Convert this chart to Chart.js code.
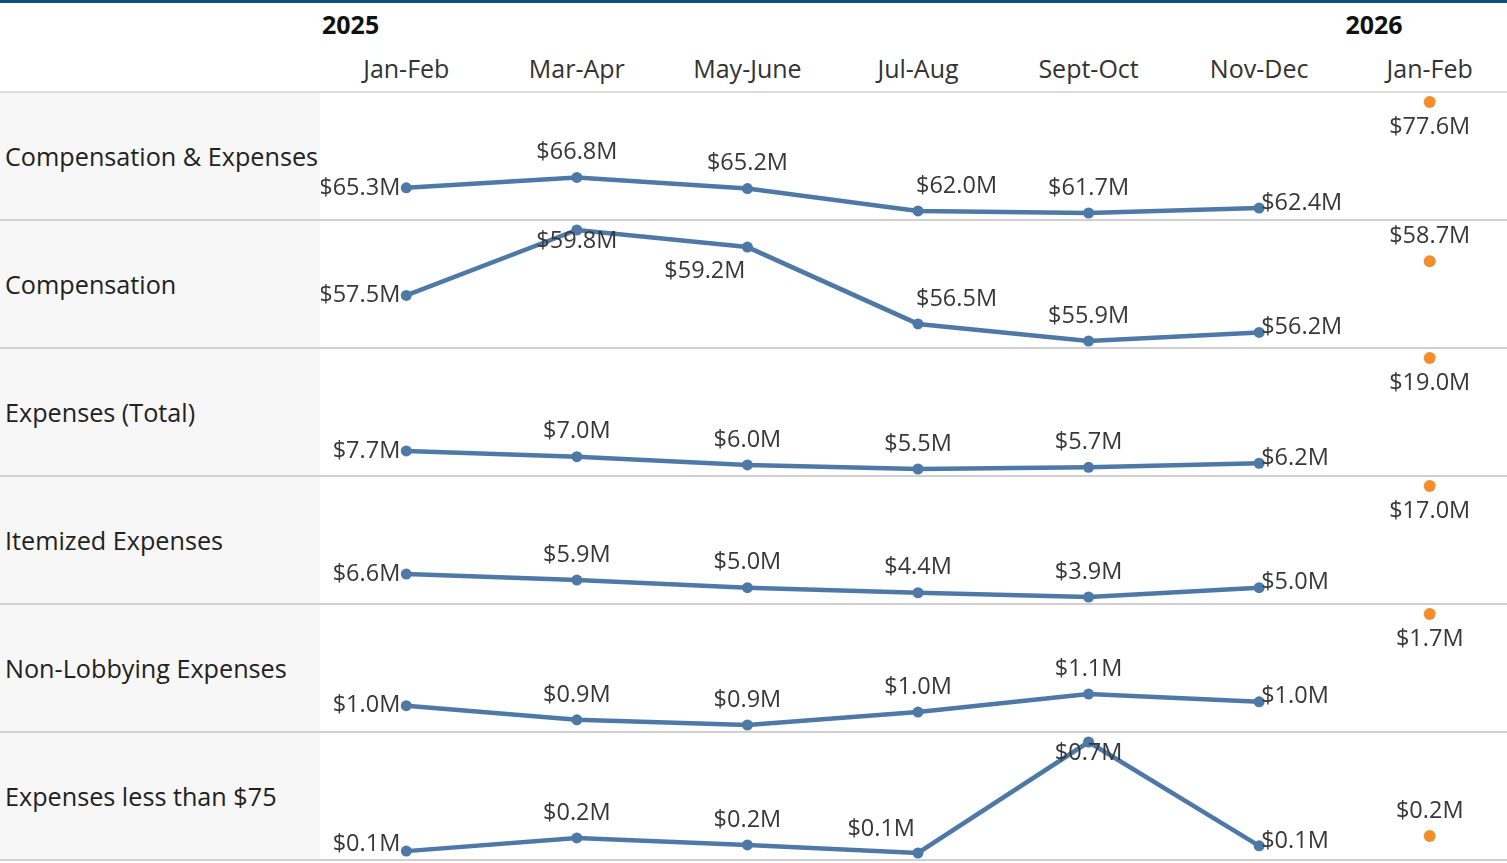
<!DOCTYPE html>
<html lang="en">
<head>
  <meta charset="UTF-8" />
  <title>Lobbying Compensation & Expenses</title>
  <script src="https://cdn.jsdelivr.net/npm/chart.js"></script>
  <style>
    body {
      margin: 0;
      width: 1507px;
      height: 863px;
      overflow: hidden;
      position: relative;
      background: #fff;
      font-family: "Open Sans", sans-serif;
      color: #333;
    }
    #topbar {
      position: absolute; left: 0; top: 0; width: 1507px; height: 3px;
      background: #0f4f82;
    }
    #headline {
      position: absolute; left: 0; top: 91px; width: 1507px; height: 2px;
      background: #dcdcdc;
    }
    .year {
      position: absolute; top: 7px; font-weight: bold; font-size: 25px; color: #111;
    }
    .period {
      position: absolute; top: 51px; width: 170px; margin-left: -85px;
      text-align: center; font-size: 25px; color: #333;
    }
    .row {
      position: absolute; left: 0; width: 1507px; height: 128px;
    }
    .row .name {
      position: absolute; left: 0; top: 0; width: 320px; height: 126px;
      background: #f7f7f7; display: flex; align-items: center;
      padding-left: 5px; box-sizing: border-box;
      font-size: 25.2px; color: #222; white-space: nowrap;
    }
    .row .sep {
      position: absolute; left: 0; bottom: 0; width: 1507px; height: 2px;
      background: #d0d0d0;
    }
    .row canvas {
      position: absolute; left: 321px; top: 0;
    }
  </style>
</head>
<body>
  <div id="topbar"></div>
  <div id="headline"></div>
  <div id="grid"></div>

  <script>
    // categories
    const periods = ['Jan-Feb', 'Mar-Apr', 'May-June', 'Jul-Aug', 'Sept-Oct', 'Nov-Dec', 'Jan-Feb'];
    const years = ['2025', '2026'];
    const yearFirstPeriod = [0, 6];

    const rowNames = [
      'Compensation & Expenses',
      'Compensation',
      'Expenses (Total)',
      'Itemized Expenses',
      'Non-Lobbying Expenses',
      'Expenses less than $75'
    ];

    // 2025 values ($M), Jan-Feb .. Nov-Dec
    const compAndExpenses = [65.3, 66.8, 65.2, 62.0, 61.7, 62.4];
    const compensation    = [57.5, 59.8, 59.2, 56.5, 55.9, 56.2];
    const expensesTotal   = [7.7, 7.0, 6.0, 5.5, 5.7, 6.2];
    const itemized        = [6.6, 5.9, 5.0, 4.4, 3.9, 5.0];
    const nonLobbying     = [1.01, 0.90, 0.86, 0.96, 1.10, 1.04];
    const lessThan75      = [0.12, 0.19, 0.153, 0.11, 0.70, 0.148];

    // 2026 Jan-Feb values ($M)
    const jan2026 = [77.6, 58.7, 19.0, 17.0, 1.72, 0.20];

    const series2025 = [compAndExpenses, compensation, expensesTotal, itemized, nonLobbying, lessThan75];

    // where each value label sits relative to its point
    const labelPlacement = [
      ['L', 'T', 'T', 'TR', 'T', 'R', 'B'],
      ['L', 'BO', 'BL', 'TR', 'T', 'R', 'T'],
      ['L', 'T', 'T', 'T', 'T', 'R', 'B'],
      ['L', 'T', 'T', 'T', 'T', 'R', 'B'],
      ['L', 'T', 'T', 'T', 'T', 'R', 'B'],
      ['LU', 'T', 'T', 'TL', 'BO', 'R', 'T']
    ];

    const BLUE = '#4e79a7';
    const ORANGE = '#f28e2b';
    const ROW_TOP = 93, ROW_H = 128, CHART_W = 1194, CHART_LEFT = 321;

    const fmt = v => '$' + v.toFixed(1) + 'M';

    // draws the "$x.xM" labels next to each point
    const valueLabels = {
      id: 'valueLabels',
      afterDatasetsDraw(chart) {
        const ctx = chart.ctx;
        const pos = chart.options.plugins.valueLabels.pos;
        ctx.save();
        ctx.font = '23.5px "Open Sans"';
        ctx.fillStyle = '#383838';
        ctx.textBaseline = 'middle';
        chart.data.datasets.forEach((ds, di) => {
          const meta = chart.getDatasetMeta(di);
          meta.data.forEach((pt, i) => {
            const v = ds.data[i];
            if (v == null) return;
            let x = pt.x, y = pt.y, align = 'center';
            switch (pos[i]) {
              case 'L': align = 'right'; x -= 6; break;
              case 'LU': align = 'right'; x -= 6; y -= 7; break;
              case 'R': align = 'left'; x += 2; y -= 5; break;
              case 'T': y -= 25; break;
              case 'TR': align = 'left'; x -= 2; y -= 25; break;
              case 'TL': align = 'right'; x -= 3; y -= 24; break;
              case 'B': y += 25; break;
              case 'BO': y += 11; break;
              case 'BL': align = 'right'; x -= 2; y += 24; break;
            }
            ctx.textAlign = align;
            ctx.fillText(fmt(v), x, y);
          });
        });
        ctx.restore();
      }
    };

    // header
    const colCenter = i => CHART_LEFT + CHART_W / 14 * (2 * i + 1);
    years.forEach((yr, k) => {
      const d = document.createElement('div');
      d.className = 'year';
      d.textContent = yr;
      d.style.left = (colCenter(yearFirstPeriod[k]) - CHART_W / 14 + 1) + 'px';
      document.body.appendChild(d);
    });
    periods.forEach((p, i) => {
      const d = document.createElement('div');
      d.className = 'period';
      d.textContent = p;
      d.style.left = colCenter(i) + 'px';
      document.body.appendChild(d);
    });

    // rows
    const grid = document.getElementById('grid');
    rowNames.forEach((name, r) => {
      const row = document.createElement('div');
      row.className = 'row';
      row.style.top = (ROW_TOP + ROW_H * r) + 'px';
      row.innerHTML = '<div class="name"></div><div class="sep"></div>';
      row.querySelector('.name').textContent = name;
      const canvas = document.createElement('canvas');
      canvas.width = CHART_W;
      canvas.height = ROW_H;
      row.appendChild(canvas);
      grid.appendChild(row);

      const line = series2025[r].concat([null]);
      const dot = [null, null, null, null, null, null, jan2026[r]];
      const all = series2025[r].concat([jan2026[r]]);

      new Chart(canvas.getContext('2d'), {
        type: 'line',
        data: {
          labels: periods,
          datasets: [{
            data: line,
            borderColor: BLUE,
            backgroundColor: BLUE,
            borderWidth: 4.5,
            pointRadius: 5.5,
            pointBorderWidth: 0,
            pointBackgroundColor: BLUE,
            tension: 0,
            clip: false
          }, {
            data: dot,
            showLine: false,
            pointRadius: 6,
            pointBorderWidth: 0,
            pointBackgroundColor: ORANGE,
            borderColor: ORANGE,
            clip: false
          }]
        },
        options: {
          responsive: false,
          animation: false,
          devicePixelRatio: 1,
          layout: { autoPadding: false, padding: { top: 9, bottom: 8, left: 0, right: 0 } },
          plugins: {
            legend: { display: false },
            tooltip: { enabled: false },
            valueLabels: { pos: labelPlacement[r] }
          },
          scales: {
            x: { type: 'category', offset: true, display: false },
            y: { display: false, min: Math.min(...all), max: Math.max(...all) }
          }
        },
        plugins: [valueLabels]
      });
    });
  </script>
</body>
</html>
